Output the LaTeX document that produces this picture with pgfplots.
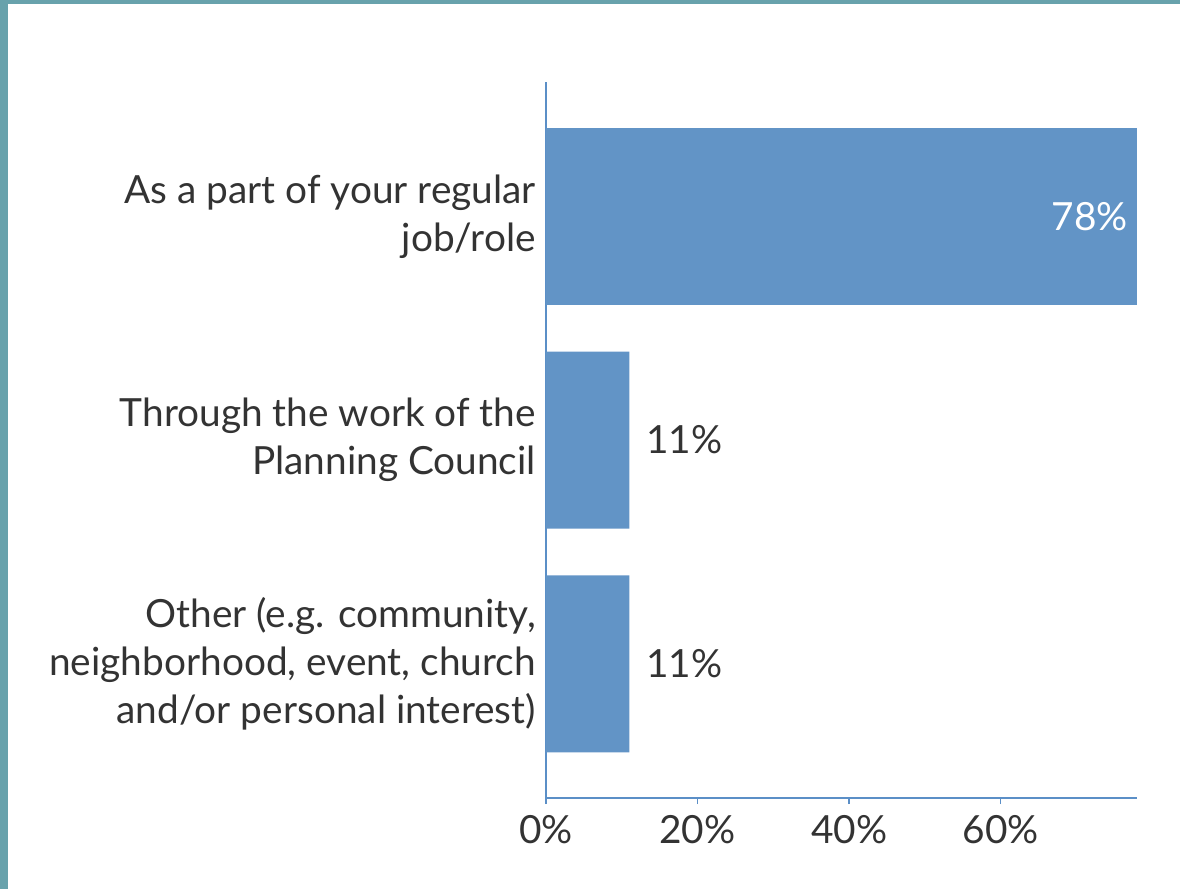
\documentclass[border=0pt]{standalone}
\usepackage{pgfplots}
\pgfplotsset{compat=1.18}
\usepackage{fontspec}
\setmainfont{Lato}
\definecolor{barblue}{RGB}{98,148,198}
\definecolor{axisblue}{RGB}{91,143,199}
\definecolor{frame}{RGB}{104,162,172}
\definecolor{txt}{RGB}{51,51,51}
\begin{document}
\begin{tikzpicture}
  % half-pixel units: 1180x889 px -> 590x444.5 pt
  \begin{axis}[
    at={(273pt,-399pt)}, anchor=south west,
    scale only axis,
    width=295.5pt, height=358pt,
    xbar, bar width=88.5pt, bar shift=0pt,
    xmin=0, xmax=78,
    ymin=-0.6, ymax=2.6, y dir=reverse,
    axis x line*=bottom, axis y line*=left,
    axis line style={axisblue, line width=1pt},
    xtick={0,20,40,60},
    xticklabel={\pgfmathprintnumber{\tick}\%},
    /pgf/number format/assume math mode=true,
    tick align=outside, major tick length=3pt,
    xtick style={axisblue, line width=0.8pt},
    ytick={0,1,2},
    ytick style={draw=none},
    yticklabels={{As a part of your regular\\job/role},
                 {Through the work of the\\Planning Council},
                 {Other (e.g. community,\\neighborhood, event, church\\and/or personal interest)}},
    yticklabel style={align=right, font=\fontsize{19.4}{24}\selectfont, text=txt, xshift=1.5pt},
    xticklabel style={font=\fontsize{19.4}{24}\selectfont, text=txt, yshift=-2pt},
    clip=false,
  ]
    \addplot[draw=none, fill=barblue,
      nodes near coords={\pgfmathprintnumber{\pgfplotspointmeta}\%},
      every node near coord/.append style={anchor=east, xshift=-1pt, text=white,
        font=\fontsize{19.4}{24}\selectfont}]
      coordinates {(78,0)};
    \addplot[draw=none, fill=barblue,
      nodes near coords={\pgfmathprintnumber{\pgfplotspointmeta}\%},
      every node near coord/.append style={anchor=west, xshift=5pt, text=txt,
        font=\fontsize{19.4}{24}\selectfont}]
      coordinates {(11,1) (11,2)};
  \end{axis}
  \fill[frame] (0,0) rectangle (590pt,-2pt);
  \fill[frame] (0,0) rectangle (4pt,-444.5pt);
  \pgfresetboundingbox
  \path (0,0) rectangle (590pt,-444.5pt);
\end{tikzpicture}
\end{document}
